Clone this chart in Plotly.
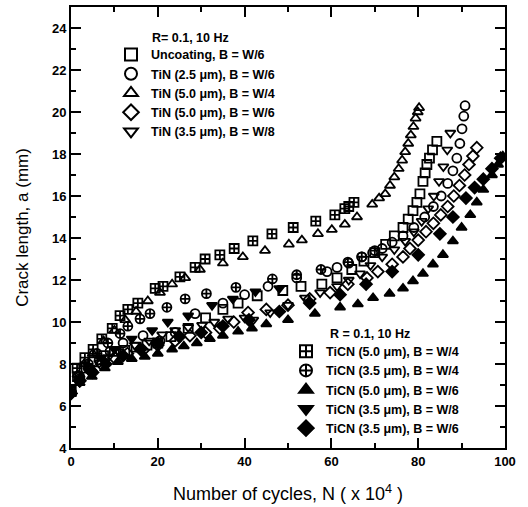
import plotly.graph_objects as go

# ---------------- data ----------------
names = [
    "Uncoating, B = W/6",
    "TiN (2.5 \u03bcm), B = W/6",
    "TiN (5.0 \u03bcm), B = W/4",
    "TiN (5.0 \u03bcm), B = W/6",
    "TiN (3.5 \u03bcm), B = W/8",
    "TiCN (5.0 \u03bcm), B = W/4",
    "TiCN (3.5 \u03bcm), B = W/4",
    "TiCN (5.0 \u03bcm), B = W/6",
    "TiCN (3.5 \u03bcm), B = W/8",
    "TiCN (3.5 \u03bcm), B = W/6",
]

unc_x = [0, 1.5, 3, 5, 7.5, 10, 12.4, 15, 17.5, 20, 23, 27, 31, 35, 38.5, 42.9, 48.8, 53, 57.8, 61.3,
         64.7, 67.5, 70, 72.5, 74.5, 76.5, 77.7, 78.8, 79.7, 80.4, 81.1, 81.6, 82.0, 82.6, 83.3, 84.3]
unc_y = [6.7, 7.4, 7.8, 8.1, 8.4, 8.6, 8.65, 8.8, 8.9, 9.0, 9.3, 9.7, 10.2, 10.6, 10.9, 11.25, 11.5, 11.7, 11.8, 12.1,
         12.5, 12.9, 13.3, 13.7, 14.1, 14.5, 14.9, 15.3, 15.7, 16.1, 16.7, 17.1, 17.5, 17.8, 18.2, 18.6]

tin25_x = [0, 2, 4, 6.5, 9, 12, 16.6, 20.5, 24, 28.6, 35, 40, 45.4, 52, 59, 61.3, 64, 67, 69.5, 71.7,
           74, 76.5, 79, 81.5, 83.5, 85.3, 86.8, 88, 88.9, 89.6, 90.1, 90.5, 90.8]
tin25_y = [6.7, 7.3, 7.8, 8.2, 8.6, 9.0, 9.35, 9.1, 9.5, 10.4, 10.9, 11.3, 11.7, 12.1, 12.4, 12.6, 12.8, 13.1, 13.3, 13.5,
           13.8, 14.1, 14.5, 15.0, 15.5, 16.0, 16.6, 17.2, 17.8, 18.5, 19.2, 19.8, 20.3]

tin50w4_x = [0, 1.5, 3, 5, 7.5, 10, 12.5, 15, 17.7, 20.5, 23.3, 26.3, 29.7, 35, 39.6, 44.7, 50.2, 53.2, 56.9, 60.1,
             63.1, 65.9, 69.4, 71, 72.4, 73.5, 74.5, 75.5, 76.3, 77, 77.7, 78.3, 78.9, 79.4, 79.9, 80.2]
tin50w4_y = [6.7, 7.5, 8.0, 8.5, 9.1, 9.6, 10.1, 10.5, 11.0, 11.4, 11.8, 12.1, 12.5, 12.8, 13.1, 13.4, 13.7, 13.9, 14.2, 14.4,
             14.65, 15.0, 15.6, 15.9, 16.1, 16.5, 16.9, 17.3, 17.7, 18.1, 18.5, 18.9, 19.3, 19.7, 20.0, 20.2]

tin50w6_x = [0, 2, 4.5, 7, 10, 13, 16.6, 20, 24, 27.4, 31, 34.3, 37.5, 40.8, 45, 50, 55, 59.7, 63.8, 68.2,
             70.7, 74, 76.5, 78.1, 80, 81.8, 83.5, 85.2, 86.8, 88.2, 89.5, 90.7, 91.7, 92.6, 93.5]
tin50w6_y = [6.6, 7.2, 7.7, 8.0, 8.3, 8.5, 8.65, 8.9, 9.1, 9.35, 9.5, 9.7, 10.0, 10.45, 10.6, 10.8, 11.1, 11.4, 11.8, 12.1,
             12.4, 12.75, 13.1, 13.5, 13.9, 14.3, 14.7, 15.1, 15.5, 16.0, 16.5, 17.0, 17.5, 17.9, 18.3]

tin35w8_x = [0, 2, 4.4, 6.5, 8.5, 11, 14.7, 18, 21, 24, 27, 30.2, 33, 36.2, 40, 42, 45.9, 50, 53.9, 57.4,
             61.3, 64, 66.6, 69, 71.7, 74.5, 77, 79, 80.8, 82.3, 83.6, 84.8, 85.8, 86.7, 87.4]
tin35w8_y = [6.6, 7.3, 7.8, 8.05, 8.3, 8.6, 8.9, 9.1, 9.4, 9.6, 9.75, 9.85, 10.0, 10.15, 10.2, 10.1, 10.45, 10.8, 11.15, 11.4,
             11.7, 12.0, 12.3, 12.7, 13.1, 13.45, 13.85, 14.3, 14.8, 15.4, 16.0, 16.7, 17.4, 18.2, 19.0]

ticn50w4_x = [0, 1.4, 3.2, 5.1, 7.1, 9.5, 11.3, 13.1, 15.4, 19.4, 21.2, 25.1, 28.6, 30.9, 34.3, 37.6, 41.9, 46.3, 51.2,
              56.4, 60.8, 63.1, 64.0, 65.2]
ticn50w4_y = [6.7, 7.8, 8.3, 8.7, 9.2, 9.7, 10.3, 10.6, 10.9, 11.6, 11.7, 12.15, 12.6, 13.0, 13.2, 13.5, 13.86, 14.2, 14.5,
              14.8, 15.1, 15.4, 15.5, 15.7]

ticn35w4_x = [0, 2, 4, 6, 8.5, 11.3, 13.1, 15.9, 18.2, 22.1, 26.3, 31.2, 38, 46.4, 52, 57.6, 63.8, 67, 70]
ticn35w4_y = [6.7, 7.4, 8.0, 8.5, 9.0, 9.45, 9.8, 10.15, 10.4, 10.7, 11.1, 11.35, 11.65, 12.05, 12.25, 12.5, 12.85, 13.1, 13.4]

ticn50w6_x = [0, 2, 4.8, 7.8, 10.8, 14, 17, 20, 23.3, 26, 29, 32, 35, 38.5, 41.7, 45, 50, 56.2, 62, 66.1,
              69.6, 73.4, 76.5, 78.8, 81.1, 83.4, 85.7, 88, 90, 92, 93.5, 95, 97, 98.4, 99.5]
ticn50w6_y = [6.6, 7.1, 7.4, 7.8, 8.1, 8.25, 8.35, 8.5, 8.7, 8.85, 9.0, 9.2, 9.35, 9.55, 9.7, 9.9, 10.1, 10.4, 10.7, 10.85,
              11.15, 11.35, 11.6, 11.95, 12.3, 12.75, 13.2, 13.85, 14.5, 15.1, 15.7, 16.3, 17.0, 17.5, 17.9]

ticn35w8_x = [0, 2, 4, 7, 10, 14, 18.7, 22.3, 27, 32.5, 37.3, 42.5, 48]
ticn35w8_y = [6.6, 7.2, 7.7, 8.3, 8.7, 9.2, 9.6, 10.0, 10.3, 10.8, 11.1, 11.45, 11.6]

ticn35w6_x = [0, 2, 5, 8, 12, 16, 20, 25, 30, 35, 41, 48, 55, 62, 68, 74, 80, 85, 88, 91, 93, 95, 97, 99]
ticn35w6_y = [6.6, 7.2, 7.6, 8.0, 8.4, 8.7, 9.0, 9.3, 9.5, 9.8, 10.1, 10.5, 10.9, 11.3, 11.8, 12.4, 13.2, 14.2, 15.0, 15.9,
              16.4, 16.8, 17.3, 17.8]

xs = [unc_x, tin25_x, tin50w4_x, tin50w6_x, tin35w8_x, ticn50w4_x, ticn35w4_x, ticn50w6_x, ticn35w8_x, ticn35w6_x]
ys = [unc_y, tin25_y, tin50w4_y, tin50w6_y, tin35w8_y, ticn50w4_y, ticn35w4_y, ticn50w6_y, ticn35w8_y, ticn35w6_y]
symbols = ["square-open", "circle-open", "triangle-up-open", "diamond-open", "triangle-down-open",
           "square-cross-open", "circle-cross-open", "triangle-up", "triangle-down", "diamond-cross"]
legend_ids = ["legend"] * 5 + ["legend2"] * 5

x_ticks = [0, 20, 40, 60, 80, 100]
y_ticks = [4, 6, 8, 10, 12, 14, 16, 18, 20, 22, 24]
legend_title = "R= 0.1, 10 Hz"
legend2_title = "R = 0.1, 10 Hz"

FONT = "Liberation Sans, Arial, Helvetica, sans-serif"

fig = go.Figure()
for i in range(len(names)):
    fig.add_trace(go.Scatter(
        x=xs[i], y=ys[i], mode="markers", name=names[i], legend=legend_ids[i],
        marker=dict(symbol=symbols[i], size=9, color="black",
                    line=dict(color="black", width=1.8)),
    ))

axis_common = dict(
    showline=True, linecolor="black", linewidth=2, mirror="allticks",
    ticks="inside", ticklen=10, tickwidth=2, tickcolor="black",
    showgrid=False, zeroline=False,
    tickfont=dict(family=FONT, size=13, color="black"),
)

fig.update_xaxes(range=[0, 100], tickvals=x_ticks, ticktext=[f"<b>{v}</b>" for v in x_ticks],
                 minor=dict(dtick=10, ticks="inside", ticklen=5, tickwidth=2, tickcolor="black", showgrid=False),
                 title=dict(text="Number of cycles, N ( x 10<sup>4</sup> )", standoff=20,
                            font=dict(family=FONT, size=18, color="black")),
                 **axis_common)
fig.update_yaxes(range=[4, 25], tickvals=y_ticks, ticktext=[f"<b>{v}</b>" for v in y_ticks],
                 minor=dict(dtick=1, ticks="inside", ticklen=5, tickwidth=2, tickcolor="black", showgrid=False),
                 title=dict(text="Crack length, a (mm)", standoff=19,
                            font=dict(family=FONT, size=17, color="black")),
                 **axis_common)

legend_font = dict(family=FONT, size=12.5, color="black", weight="bold")
PX0, PY0, PW, PH = 71, 448, 434, 443   # plot-area geometry used to place the legends
fig.update_layout(
    width=528, height=507,
    margin=dict(l=71, r=23, t=5, b=59),
    paper_bgcolor="white", plot_bgcolor="white",
    showlegend=True,
    legend=dict(x=(111 - PX0) / PW, y=(PY0 - 38) / PH, xanchor="left", yanchor="top", bgcolor="rgba(0,0,0,0)",
                font=legend_font, itemsizing="constant", tracegroupgap=0),
    legend2=dict(x=(286 - PX0) / PW, y=(PY0 - 336) / PH, xanchor="left", yanchor="top", bgcolor="rgba(0,0,0,0)",
                 font=legend_font, itemsizing="constant", tracegroupgap=0),
    annotations=[
        dict(text=legend_title, xref="paper", yref="paper", x=(150 - PX0) / PW, y=(PY0 - 36) / PH,
             xanchor="left", yanchor="middle", showarrow=False, font=legend_font),
        dict(text=legend2_title, xref="paper", yref="paper", x=(328 - PX0) / PW, y=(PY0 - 333) / PH,
             xanchor="left", yanchor="middle", showarrow=False, font=legend_font),
    ],
)

fig.write_html("out.html", config={"displayModeBar": False},
               post_script="document.body.style.margin='0px';")
